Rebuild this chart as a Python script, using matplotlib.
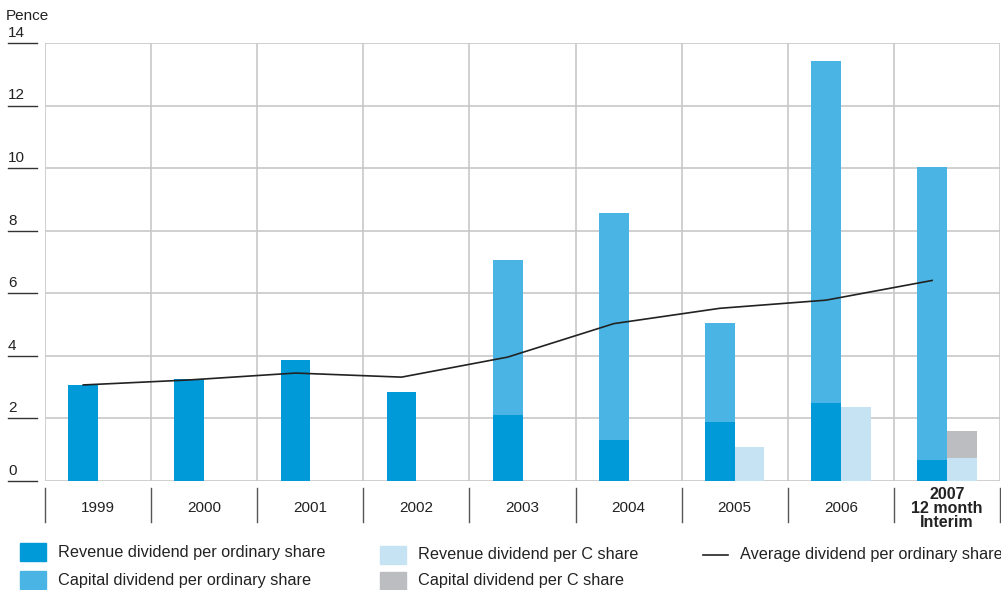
#!/usr/bin/env python3
import matplotlib

matplotlib.use("Agg")
import matplotlib.pyplot as plt
from matplotlib.patches import Rectangle
from matplotlib.lines import Line2D

plt.rcParams["font.family"] = ["Liberation Sans", "DejaVu Sans"]

YEARS = ["1999", "2000", "2001", "2002", "2003", "2004", "2005", "2006", "2007\n12 month\nInterim"]
REV_ORD = [3.07, 3.26, 3.87, 2.84, 2.11, 1.31, 1.89, 2.49, 0.67]
CAP_ORD = [0.0, 0.0, 0.0, 0.0, 4.95, 7.25, 3.16, 10.93, 9.37]
REV_C = [0.0, 0.0, 0.0, 0.0, 0.0, 0.0, 1.09, 2.36, 0.73]
CAP_C = [0.0, 0.0, 0.0, 0.0, 0.0, 0.0, 0.0, 0.0, 0.87]
AVG_ORD = [3.07, 3.23, 3.45, 3.32, 3.96, 5.03, 5.52, 5.78, 6.41]
YTICKS = [0, 2, 4, 6, 8, 10, 12, 14]

C_REV = "#009ad8"
C_CAP = "#4ab5e4"
C_REVC = "#c5e3f3"
C_CAPC = "#bcbdc1"
GRID = "#c8c8c8"

W, H = 1001, 590
fig = plt.figure(figsize=(W / 100, H / 100), dpi=100)
ax = fig.add_axes([45 / W, (H - 481) / H, 955 / W, 438 / H])
ax.set_xlim(0, 9)
ax.set_ylim(0, 14)
for s in ax.spines.values():
    s.set_visible(False)
ax.set_xticks([])
ax.set_yticks([])

# grid
for v in YTICKS:
    ax.axhline(v, color=GRID, lw=1.2, zorder=0)
for i in range(10):
    ax.axvline(i, color=GRID, lw=1.2, zorder=0)

bw = 0.28
xs = [i + 0.5 - bw for i in range(9)]
xc = [i + 0.5 for i in range(9)]
ax.bar(xs, REV_ORD, width=bw, align="edge", color=C_REV, zorder=2)
ax.bar(xs, CAP_ORD, width=bw, bottom=REV_ORD, align="edge", color=C_CAP, zorder=2)
ax.bar(xc, REV_C, width=bw, align="edge", color=C_REVC, zorder=2)
ax.bar(xc, CAP_C, width=bw, bottom=REV_C, align="edge", color=C_CAPC, zorder=2)
ax.plot([x + bw / 2 for x in xs], AVG_ORD, color="#222222", lw=1.2, zorder=3)

# y tick labels with underline
yt = ax.get_yaxis_transform()
for v in YTICKS:
    ax.plot([-37 / 955, -8 / 955], [v, v], color="#333333", lw=1.0, transform=yt, clip_on=False)
    ax.text(-37 / 955, v + 0.1, str(v), transform=yt, ha="left", va="bottom", fontsize=11, color="#222222")
fig.text(6 / W, 1 - 16 / H, "Pence", ha="left", va="center", fontsize=11, color="#222222")

# x labels with separators
for i in range(10):
    ax.plot([i, i], [-0.22, -1.31], color="#555555", lw=1.0, clip_on=False)
for i, lab in enumerate(YEARS):
    bold = "\n" in lab
    ax.text(i + 0.5, -0.87, lab, ha="center", va="center", fontsize=11.5 if bold else 11,
            fontweight="bold" if bold else "normal", color="#222222", linespacing=0.9)

# legend
def sq(x, y, c, label):
    fig.patches.append(Rectangle((x / W, 1 - (y + 9) / H), 26 / W, 18 / H,
                                 transform=fig.transFigure, color=c))
    fig.text((x + 38) / W, 1 - y / H, label, ha="left", va="center", fontsize=11.7, color="#222222")

sq(20, 552, C_REV, "Revenue dividend per ordinary share")
sq(20, 580, C_CAP, "Capital dividend per ordinary share")
sq(380, 555, C_REVC, "Revenue dividend per C share")
sq(380, 581, C_CAPC, "Capital dividend per C share")
fig.lines.append(Line2D([703 / W, 728 / W], [1 - 555 / H, 1 - 555 / H], transform=fig.transFigure,
                        color="#222222", lw=1.2))
fig.text(740 / W, 1 - 555 / H, "Average dividend per ordinary share", ha="left", va="center",
         fontsize=11.7, color="#222222")

fig.savefig("out.png", dpi=100)
